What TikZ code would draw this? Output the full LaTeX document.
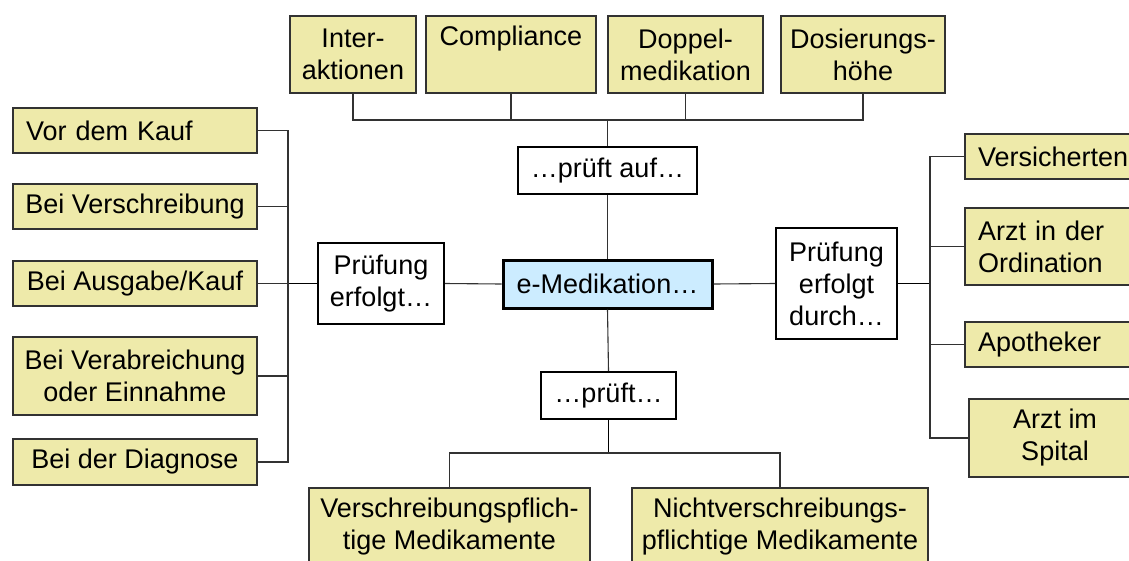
\documentclass[tikz,border=0pt]{standalone}
\usepackage{fontspec}
\setmainfont{Liberation Sans}
\newcommand\dgfont{\fontsize{27}{32}\selectfont}
\definecolor{yfill}{RGB}{238,234,170}
\definecolor{bfill}{RGB}{204,236,255}
\definecolor{ln}{RGB}{50,50,50}
\tikzset{
  base/.style={inner ysep=0pt, anchor=center, font=\dgfont},
  ybox/.style={base, draw=ln, line width=1.1pt, fill=yfill},
  yc/.style={ybox, align=center, inner xsep=3pt, minimum width=#1pt},
  yl/.style={ybox, align=left, inner xsep=13pt, text width=#1pt},
  wbox/.style={base, draw=black, line width=2pt, fill=white, align=center, inner xsep=3pt, minimum width=#1pt},
  thin/.style={draw=ln, line width=1.1pt},
  thick/.style={draw=black, line width=1.6pt},
}
\begin{document}
\begin{tikzpicture}[x=1pt,y=-1pt]
\useasboundingbox (0,0) rectangle (1129,560);
\clip (0,0) rectangle (1129,560);
% top row
\node[yc=126, minimum height=77pt] (inter) at (353,54.5) {Inter-\\aktionen};
\node[yc=170, minimum height=77pt] (compl) at (511,54.5) {Compliance\\\phantom{g}};
\node[yc=155, minimum height=77pt] (doppel) at (685.5,54.5) {Doppel-\\medikation};
\node[yc=164, minimum height=77pt] (dosier) at (863,54.5) {Dosierungs-\\höhe};
% centre column
\node[wbox=179, minimum height=47pt] (pa) at (607.5,170.5) {…prüft auf…};
\node[base, draw=black, line width=3pt, fill=bfill, minimum width=209pt, minimum height=48pt] (em) at (607.5,284) {e-Medikation…};
\node[wbox=135, minimum height=47pt] (pr) at (608.5,395.5) {…prüft…};
% bottom row
\node[yc=281, minimum height=77pt] (vs) at (449.5,526.5) {Verschreibungspflich-\\tige Medikamente};
\node[yc=296, minimum height=77pt] (nv) at (780,526.5) {Nichtverschreibungs-\\pflichtige Medikamente};
% left side
\node[wbox=126, minimum height=81pt] (pl) at (381,283.5) {Prüfung\\erfolgt…};
\node[yl=218, minimum height=45pt] (vdk) at (135,130.5) {Vor dem Kauf};
\node[yc=244, minimum height=45pt] (bvs) at (135,206.5) {Bei Verschreibung};
\node[yc=244, minimum height=45pt] (bak) at (135,283.5) {Bei Ausgabe/Kauf};
\node[yc=244, minimum height=78pt] (bve) at (135,376) {Bei Verabreichung\\oder Einnahme};
\node[yc=244, minimum height=46pt] (bdd) at (135,462) {Bei der Diagnose};
% right side
\node[wbox=121, minimum height=111pt] (pr2) at (836.5,283.5) {Prüfung\\erfolgt\\durch…};
\node[yl=150, minimum height=45pt] (vers) at (1053,156.5) {Versicherten};
\node[yl=150, minimum height=77pt] (aio) at (1053,246.5) {Arzt in der\\Ordination};
\node[yl=150, minimum height=45pt] (apo) at (1053,344.5) {Apotheker};
\node[yc=172, minimum height=78pt] (ais) at (1055,438) {Arzt im\\Spital};
% junction points
\coordinate (tb) at (607.5,120);
\coordinate (bb) at (608.5,453);
\coordinate (lb) at (288,283.5);
\coordinate (rb) at (930,283.5);
% top connectors
\draw[thin] (inter.south) |- (tb);
\draw[thin] (compl.south) |- (tb);
\draw[thin] (doppel.south) |- (tb);
\draw[thin] (dosier.south) |- (tb);
\draw[thin] (tb) -- (pa.north);
% centre connectors
\draw[thin] (pa.south) -- (em.north);
\draw[thin] (em.south) -- (pr.north);
\draw[thin] (em.west) -- (pl.east);
\draw[thin] (em.east) -- (pr2.west);
% bottom connectors
\draw[thick] (pr.south) -- (bb);
\draw[thin] (vs.north) |- (bb);
\draw[thin] (nv.north) |- (bb);
% left connectors
\draw[thick] (pl.west) -- (lb);
\draw[thin] (vdk.east) -| (lb);
\draw[thin] (bvs.east) -| (lb);
\draw[thin] (bak.east) -- (lb);
\draw[thin] (bve.east) -| (lb);
\draw[thin] (bdd.east) -| (lb);
% right connectors
\draw[thick] (pr2.east) -- (rb);
\draw[thin] (vers.west) -| (rb);
\draw[thin] (aio.west) -| (rb);
\draw[thin] (apo.west) -| (rb);
\draw[thin] (ais.west) -| (rb);
\end{tikzpicture}
\end{document}
